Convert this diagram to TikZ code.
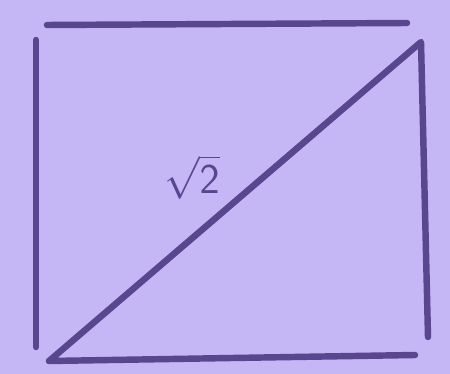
\documentclass[tikz,border=0pt]{standalone}
\usepackage{amsfonts, amssymb, amsmath}
\usepackage{tikz}

\definecolor{paper}{RGB}{197,182,246}
\definecolor{ink}{RGB}{88,70,142}

\begin{document}
\begin{tikzpicture}[x=0.03cm, y=-0.03cm,
    side/.style={ink, line width=5.5pt, line cap=round, line join=round}]
    % background
    \fill[paper] (0, 0) rectangle (450, 374);
    \useasboundingbox (0, 0) rectangle (450, 374);

    % corners
    \coordinate (tl) at (47, 25);
    \coordinate (tr) at (407, 23);
    \coordinate (lt) at (36, 40);
    \coordinate (lb) at (36, 347);
    \coordinate (bl) at (49, 361);
    \coordinate (br) at (415, 355);
    \coordinate (rt) at (421, 42);
    \coordinate (rb) at (428, 337);

    % sides
    \draw[side] (tl) -- (tr);
    \draw[side] (lt) -- (lb);
    \draw[side] (br) -- (bl) -- (rt) -- (rb);

    % label
    \node[ink, font=\LARGE, scale=2.1] (root) at (192, 177) {$\sqrt{\mathsf{2}}$};
\end{tikzpicture}
\end{document}
